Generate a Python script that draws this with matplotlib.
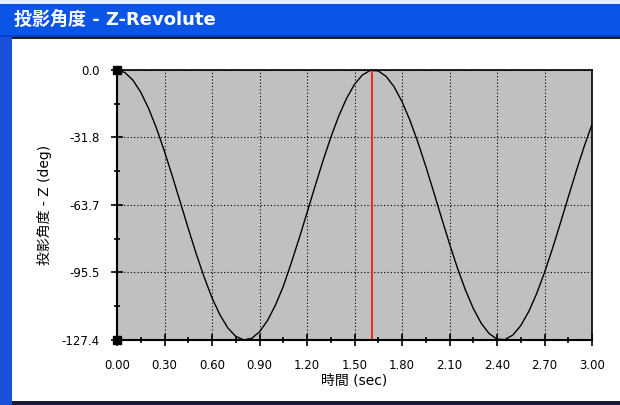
import numpy as np
import matplotlib.pyplot as plt
from matplotlib.patches import Rectangle
from matplotlib.ticker import MultipleLocator, FixedLocator

# values, every 0.05 s
t = [i * 0.05 for i in range(61)]
angle = [0.0, -1.19, -4.73, -10.48, -18.22, -27.61, -38.47, -50.22, -62.46, -74.76,
         -86.64, -97.65, -107.47, -115.51, -121.71, -125.67, -127.36, -126.64, -123.56, -118.28,
         -111.04, -102.15, -91.17, -79.57, -67.40, -55.08, -43.06, -31.85, -21.82, -13.35,
         -6.77, -2.33, -0.19, -0.43, -3.04, -7.92, -14.90, -23.72, -33.99, -45.43,
         -57.53, -69.87, -81.97, -93.41, -103.68, -112.49, -119.48, -124.35, -126.97, -127.21,
         -125.07, -120.63, -114.05, -105.58, -95.55, -84.34, -72.32, -60.00, -47.83, -36.23,
         -25.66]
cursor_t = 1.61
yticks = [0.0, -31.8, -63.7, -95.5, -127.4]
xticks = [0.0, 0.3, 0.6, 0.9, 1.2, 1.5, 1.8, 2.1, 2.4, 2.7, 3.0]

title = '投影角度 - Z-Revolute'
ylabel = '投影角度 - Z (deg)'
xlabel = '時間 (sec)'

plt.rcParams['font.family'] = ['DejaVu Sans', 'Noto Sans CJK JP']

fig = plt.figure(figsize=(6.2, 4.05), dpi=100)
fig.patch.set_facecolor('white')

W, H = 620.0, 405.0
def box(x0, y0, x1, y1, color, z=-5):
    # pixel box, y measured from the top
    fig.patches.append(Rectangle((x0 / W, 1 - y1 / H), (x1 - x0) / W, (y1 - y0) / H,
                                 transform=fig.transFigure, facecolor=color,
                                 edgecolor='none', zorder=z))

# window frame
box(0, 0, W, 4, '#e8eefc')
box(0, 4, W, 37, '#0a55e6')
box(0, 35, W, 37, '#0040c8', -4)
box(0, 37, 12, H, '#1a4fd8')
box(12, 37, W, 39, '#202020', -3)
box(12, 401, W, H, '#1a1a3a', -3)
fig.text(14 / W, 1 - 20 / H, title, color='white', fontsize=13, fontweight='bold',
         va='center', ha='left')

ax = fig.add_axes([117 / W, 1 - 340 / H, 475 / W, 270 / H])
ax.set_facecolor('#c0c0c0')
ax.plot(t, angle, color='black', lw=1.0)
ax.axvline(cursor_t, color='#e8302a', lw=1.5)

ax.set_xlim(0, 3.0)
ax.set_ylim(-127.4, 0.0)
ax.xaxis.set_major_locator(FixedLocator(xticks))
ax.xaxis.set_minor_locator(MultipleLocator(0.15))
ax.yaxis.set_major_locator(FixedLocator(yticks))
ax.yaxis.set_minor_locator(FixedLocator([-15.9, -47.75, -79.6, -111.45]))
ax.set_xticklabels(['%.2f' % v for v in xticks])
ax.set_yticklabels(['%.1f' % v for v in yticks])
ax.tick_params(which='major', direction='inout', length=9, width=1.2, labelsize=8.5)
ax.tick_params(axis='x', which='major', pad=9)
ax.tick_params(axis='y', which='major', pad=8)
ax.tick_params(which='minor', direction='inout', length=5, width=1.2)
ax.grid(True, which='major', color='black', linestyle=(0, (1, 2)), lw=0.8)

for side in ['left', 'bottom']:
    ax.spines[side].set_linewidth(1.5)
for side in ['top', 'right']:
    ax.spines[side].set_linewidth(1.2)

ax.plot([0, 0], [0.0, -127.4], 's', color='black', ms=6, clip_on=False, zorder=5)

ax.set_xlabel(xlabel, fontsize=10, labelpad=1)
ax.set_ylabel(ylabel, fontsize=10, labelpad=7)

fig.savefig('out.png', dpi=100)
